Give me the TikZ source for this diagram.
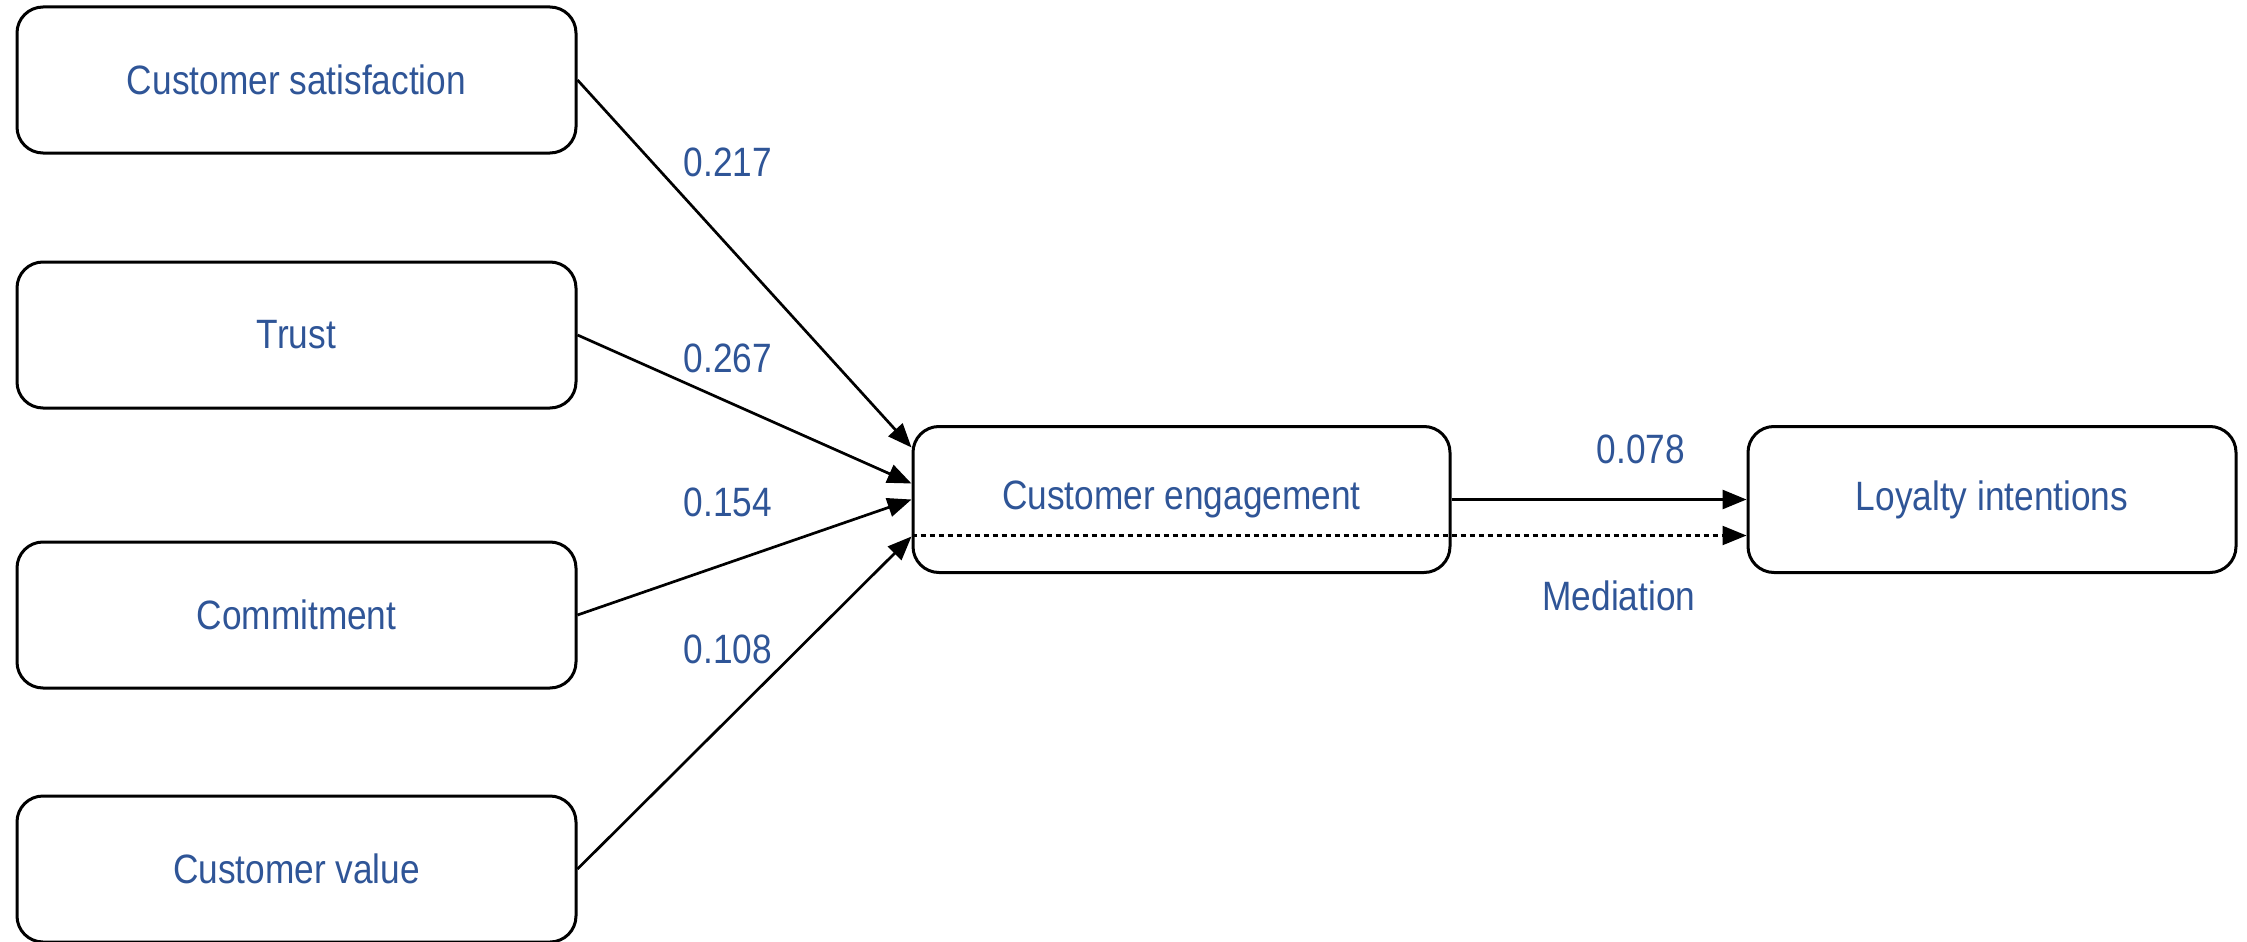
\documentclass[tikz,border=0pt]{standalone}
\usepackage{fontspec}
\setmainfont{Liberation Sans}[FakeStretch=0.86]
\usetikzlibrary{arrows.meta}
\definecolor{txtblue}{RGB}{47,85,151}
\begin{document}
\begin{tikzpicture}[x=1pt,y=-1pt,
  box/.style={draw, line width=3pt, rounded corners=26pt, minimum height=146pt,
    inner sep=0pt, font=\fontsize{41}{49}\selectfont, text=txtblue},
  lbl/.style={font=\fontsize{41}{49}\selectfont, text=txtblue, inner sep=0pt},
  arr/.style={line width=2.7pt, -{Triangle[length=24pt,width=19pt]}},
  darr/.style={line width=2.2pt, dash pattern=on 5pt off 4pt, -{Triangle[length=24pt,width=19pt]}}
]
\useasboundingbox (0,0) rectangle (2247,942);
\node[box, minimum width=559pt] (cs) at (296.5,80) {Customer satisfaction};
\node[box, minimum width=559pt] (tr) at (296.5,335) {Trust};
\node[box, minimum width=559pt] (cm) at (296.5,615) {Commitment};
\node[box, minimum width=559pt] (cv) at (296.5,869) {Customer value};
\node[box, minimum width=537pt] (ce) at (1181.5,499.5) {Customer engagement};
\node[box, minimum width=488pt] (li) at (1992,499.5) {Loyalty intentions};

\draw[arr] (cs.east) -- ([yshift=52pt]ce.west);
\draw[arr] (tr.east) -- ([yshift=16pt]ce.west);
\draw[arr] (cm.east) -- (ce.west);
\draw[arr] (cv.east) -- ([yshift=-37pt]ce.west);
\draw[arr] (ce.east) -- (li.west);
\draw[darr] ([yshift=-36pt]ce.west) -- ([yshift=-36pt]li.west);

\node[lbl] (l1) at (728,162) {0.217};
\node[lbl] (l2) at (728,358) {0.267};
\node[lbl] (l3) at (728,502) {0.154};
\node[lbl] (l4) at (728,649) {0.108};
\node[lbl] (l5) at (1641,449) {0.078};
\node[lbl] (l6) at (1619,596) {Mediation};
\end{tikzpicture}
\end{document}
